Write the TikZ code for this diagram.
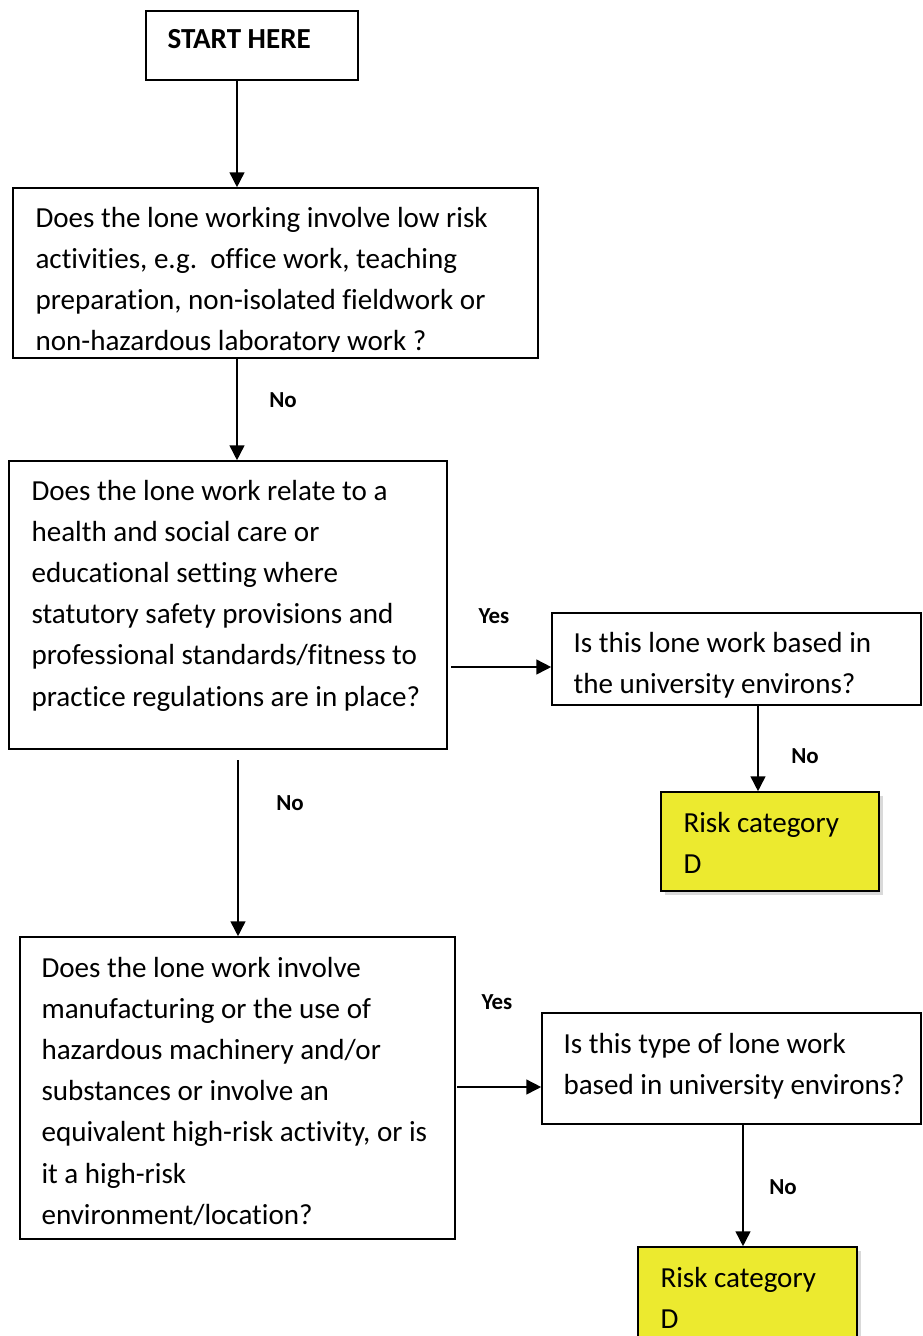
\documentclass[tikz,border=0pt]{standalone}
\usepackage{fontspec}
\setmainfont{Carlito}[Ligatures=NoCommon]
\usepackage{xcolor}
\usetikzlibrary{arrows.meta,fit,shadows}
\definecolor{riskyellow}{RGB}{236,234,47}

\begin{document}
\begin{tikzpicture}[x=0.375pt,y=-0.375pt,
    box/.style={draw,line width=0.6pt,inner sep=0pt},
    riskbox/.style={box,fill=riskyellow,drop shadow={shadow xshift=1.6pt,shadow yshift=-1.6pt,opacity=0.3}},
    txt/.style={anchor=north west,inner sep=0pt,align=left,font=\fontsize{10.9}{15.4}\selectfont,execute at begin node=\strut},
    lbl/.style={inner sep=0pt,font=\fontsize{8.6}{10}\selectfont\bfseries},
    arr/.style={line width=0.6pt,-{Triangle[length=5.6pt,width=5.6pt]}}]

    \useasboundingbox (0,0) rectangle (923,1336);

    % boxes
    \node[box,fit={(146,11) (358,80)}] (start) {};
    \node[box,fit={(13,188) (538,358)}] (low) {};
    \node[box,fit={(9,461) (447,749)}] (care) {};
    \node[box,fit={(552,613) (921,705)}] (campus1) {};
    \node[riskbox,fit={(661,792) (879,891)}] (riskA) {};
    \node[box,fit={(20,937) (455,1239)}] (hazard) {};
    \node[box,fit={(542,1013) (921,1124)}] (campus2) {};
    \node[riskbox,fit={(638,1247) (857,1360)}] (riskB) {};

    % texts
    \node[anchor=base west,inner sep=0pt,font=\fontsize{10.9}{15.4}\selectfont\bfseries] (startT) at (167,48) {START HERE};
    \begin{scope}
      \clip (low.north west) rectangle (538,351);
      \node[txt] (lowT) at (35,207) {Does the lone working involve low risk\\activities, e.g.\ \ office work, teaching\\preparation, non-isolated fieldwork or\\non-hazardous laboratory work ?};
    \end{scope}
    \node[txt] (careT) at (31,480) {Does the lone work relate to a\\health and social care or\\educational setting where\\statutory safety provisions and\\professional standards/fitness to\\practice regulations are in place?};
    \node[txt] (campus1T) at (573,632) {Is this lone work based in\\the university environs?};
    \node[txt] (riskAT) at (683,812) {Risk category\\D};
    \node[txt] (hazardT) at (41,957) {Does the lone work involve\\manufacturing or the use of\\hazardous machinery and/or\\substances or involve an\\equivalent high-risk activity, or is\\it a high-risk\\environment/location?};
    \node[txt] (campus2T) at (563,1033) {Is this type of lone work\\based in university environs?};
    \node[txt] (riskBT) at (660,1267) {Risk category\\D};

    % labels
    \node[lbl] (no1) at (283,400) {No};
    \node[lbl] (yes1) at (494,616) {Yes};
    \node[lbl] (no2) at (805,756) {No};
    \node[lbl] (no3) at (290,803) {No};
    \node[lbl] (yes2) at (497,1002) {Yes};
    \node[lbl] (no4) at (783,1187) {No};

    % connectors
    \coordinate (colA) at (237,0);
    \draw[arr] (start.south -| colA) -- (low.north -| colA);
    \draw[arr] (low.south -| colA) -- (care.north -| colA);
    \coordinate (careOut) at (451,667);
    \draw[arr] (careOut) -- (careOut -| campus1.west);
    \coordinate (colB) at (758,0);
    \draw[arr] (campus1.south -| colB) -- (riskA.north -| colB);
    \coordinate (careDown) at (238,760);
    \draw[arr] (careDown) -- (hazard.north -| careDown);
    \coordinate (hazOut) at (457,1087);
    \draw[arr] (hazOut) -- (hazOut -| campus2.west);
    \coordinate (colC) at (743,0);
    \draw[arr] (campus2.south -| colC) -- (riskB.north -| colC);
\end{tikzpicture}
\end{document}
